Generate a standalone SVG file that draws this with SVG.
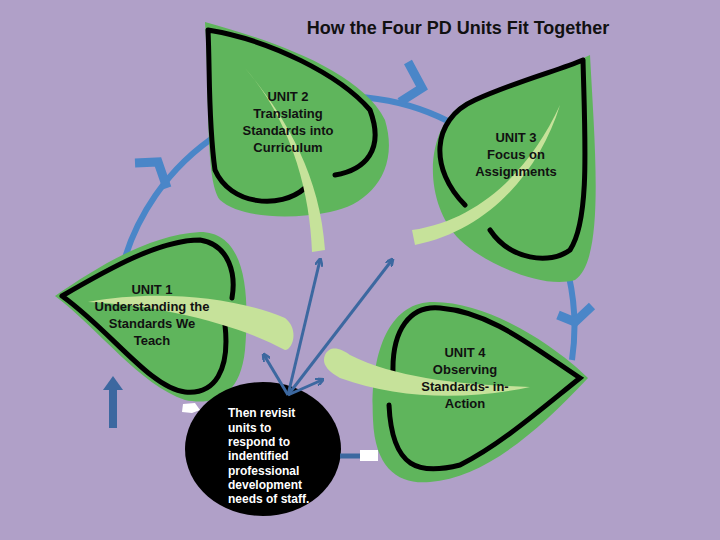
<svg xmlns="http://www.w3.org/2000/svg" width="720" height="540" viewBox="0 0 720 540">
<defs>
<style>
.leaf{fill:#5fb55c}
.out{fill:none;stroke:#000;stroke-width:5;stroke-linecap:round}
.stem{fill:#c6e29a}
.t{font-family:"Liberation Sans",Arial,sans-serif;font-size:13px;font-weight:bold;text-anchor:middle;fill:#111}
.w{font-family:"Liberation Sans",Arial,sans-serif;font-size:12px;font-weight:bold;fill:#fff}
.ar{stroke:#3c68a0;stroke-width:3;fill:none}
</style>
<marker id="ah" markerWidth="8" markerHeight="8" refX="6" refY="4" orient="auto" markerUnits="userSpaceOnUse" viewBox="0 0 8 8"><path d="M0,0 L8,4 L0,8" fill="none" stroke="#3c68a0" stroke-width="2.5"/></marker>
</defs>
<rect width="720" height="540" fill="#b0a0c8"/>
<text x="458" y="34" font-family="Liberation Sans,Arial,sans-serif" font-size="18" font-weight="bold" text-anchor="middle" fill="#111">How the Four PD Units Fit Together</text>
<g id="cycle">
<path d="M121,272 A230,230 0 0 1 572,360" fill="none" stroke="#4a86c8" stroke-width="6"/>
<path d="M135,163 L158,162 L167,188 M408,62 L422,88 L400,102 M558,315 L575,322 L592,306" fill="none" stroke="#4a86c8" stroke-width="9"/>
</g>
<g id="unit2">
<path class="leaf" d="M205,22 C270,40 360,70 385,120 C400,170 370,205 330,212 C290,220 240,218 220,200 C205,180 210,100 205,22 Z"/>
<path class="out" d="M208,30 C270,40 340,75 370,110 C385,150 365,170 335,175 M305,188 C280,210 230,205 215,170 C208,120 210,70 208,30"/>
<path class="stem" d="M245,68 C280,110 320,170 325,250 L312,252 C310,190 290,120 245,68 Z"/>
<text class="t"><tspan x="288" y="101">UNIT 2</tspan><tspan x="288" y="118">Translating</tspan><tspan x="288" y="135">Standards into</tspan><tspan x="288" y="152">Curriculum</tspan></text>
</g>
<g id="unit3">
<path class="leaf" d="M590,55 C595,150 605,260 575,280 C540,290 480,260 460,240 C420,200 425,120 470,100 C520,80 560,70 590,55 Z"/>
<path class="out" d="M583,60 C585,140 590,220 570,250 C550,265 510,260 490,230 M465,205 C430,170 430,120 475,100 C520,80 560,70 583,60"/>
<path class="stem" d="M560,105 C540,170 490,230 415,245 L412,230 C480,220 530,170 560,105 Z"/>
<text class="t"><tspan x="516" y="142">UNIT 3</tspan><tspan x="516" y="159">Focus on</tspan><tspan x="516" y="176">Assignments</tspan></text>
</g>
<g id="unit1">
<path class="leaf" d="M55,296 C100,265 150,235 200,232 C245,232 250,290 245,350 C240,400 210,405 185,400 C140,385 100,330 55,296 Z"/>
<path class="out" d="M62,296 C110,268 160,240 200,240 C230,245 236,275 232,298 M225,325 C230,370 215,395 185,392 C150,388 110,330 62,296"/>
<path class="stem" d="M88,302 C150,290 230,295 285,318 C300,330 292,350 285,350 C240,325 160,305 88,302 Z"/>
<text class="t"><tspan x="152" y="294">UNIT 1</tspan><tspan x="152" y="311">Understanding the</tspan><tspan x="152" y="328">Standards We</tspan><tspan x="152" y="345">Teach</tspan></text>
</g>
<g id="unit4">
<path class="leaf" d="M588,378 C560,350 490,300 430,302 C385,305 370,360 373,420 C375,470 400,485 430,482 C480,478 530,440 588,378 Z"/>
<path class="out" d="M393,372 C392,330 410,305 440,308 C490,312 530,345 580,378 C540,410 500,445 460,465 C420,475 392,470 389,405"/>
<path class="stem" d="M325,355 C330,345 340,348 350,355 C400,380 470,385 530,387 C470,400 400,400 340,378 C325,370 322,362 325,355 Z"/>
<text class="t"><tspan x="465" y="357">UNIT 4</tspan><tspan x="465" y="374">Observing</tspan><tspan x="465" y="391">Standards- in-</tspan><tspan x="465" y="408">Action</tspan></text>
</g>
<g id="revisit">
<ellipse cx="263" cy="449" rx="78" ry="67" fill="#000"/>
<text class="w"><tspan x="228" y="417">Then revisit</tspan><tspan x="228" y="432">units to</tspan><tspan x="228" y="446">respond to</tspan><tspan x="228" y="460">indentified</tspan><tspan x="228" y="475">professional</tspan><tspan x="228" y="489">development</tspan><tspan x="228" y="503">needs of staff.</tspan></text>
</g>
<g id="connectors">
<line class="ar" x1="288" y1="395" x2="320" y2="260" marker-end="url(#ah)"/>
<line class="ar" x1="288" y1="395" x2="392" y2="260" marker-end="url(#ah)"/>
<line class="ar" x1="288" y1="395" x2="264" y2="355" marker-end="url(#ah)"/>
<line class="ar" x1="288" y1="395" x2="322" y2="380" marker-end="url(#ah)"/>
<path d="M113,428 L113,385" stroke="#3c68a0" stroke-width="8" fill="none"/>
<path d="M103,390 L113,376 L123,390 Z" fill="#3c68a0"/>
<path d="M183,404 L195,403 L200,410 L192,413 L182,412 Z" fill="#fff"/>
<path d="M340,456 L365,456" stroke="#3c68a0" stroke-width="5"/>
<rect x="360" y="450" width="18" height="11" fill="#fff"/>
</g>
</svg>
